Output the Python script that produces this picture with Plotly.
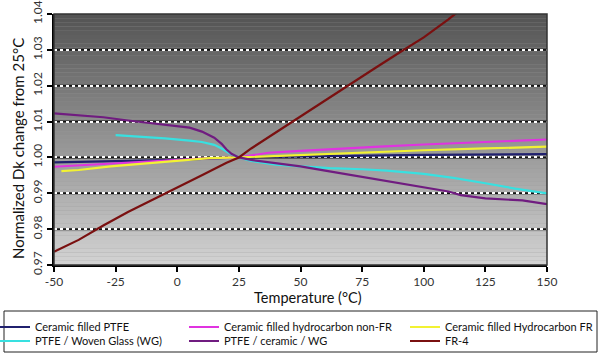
import plotly.graph_objects as go

# ---- data ----
fr4_x = [-50, -40, -30, -20, -10, 0, 10, 20, 25, 30, 40, 50, 60, 70, 80, 90, 100, 110, 120]
fr4_y = [0.9737, 0.9770, 0.9810, 0.9848, 0.9882, 0.9915, 0.9950, 0.9985, 1.0000, 1.0025, 1.0070,
         1.0115, 1.0160, 1.0205, 1.0248, 1.0292, 1.0335, 1.0385, 1.0440]

purple_x = [-50, -40, -30, -20, -10, 0, 5, 10, 15, 18, 20, 22, 25, 30, 40, 50, 60, 75, 90, 100, 110,
            115, 125, 140, 150]
purple_y = [1.0123, 1.0118, 1.0112, 1.0103, 1.0095, 1.0088, 1.0083, 1.0072, 1.0055, 1.0038, 1.0022,
            1.0010, 1.0000, 0.9993, 0.9985, 0.9975, 0.9963, 0.9945, 0.9928, 0.9917, 0.9905,
            0.9895, 0.9886, 0.9880, 0.9870]

cyan_x = [-25, -15, -5, 5, 10, 15, 18, 21, 25, 30, 40, 50, 62, 75, 85, 100, 112, 125, 137, 150]
cyan_y = [1.0062, 1.0058, 1.0053, 1.0047, 1.0043, 1.0035, 1.0025, 1.0012, 1.0000, 0.9990, 0.9980,
          0.9975, 0.9970, 0.9967, 0.9963, 0.9954, 0.9943, 0.9928, 0.9913, 0.9900]

navy_x = [-50, -25, 0, 25, 50, 100, 150]
navy_y = [0.9986, 0.9989, 0.9993, 1.0000, 1.0003, 1.0007, 1.0009]

magenta_x = [-50, -40, -25, -10, 0, 10, 25, 37, 50, 62, 82, 100, 125, 150]
magenta_y = [0.9974, 0.9978, 0.9985, 0.9991, 0.9994, 0.9997, 1.0000, 1.0013, 1.0018, 1.0023,
             1.0030, 1.0036, 1.0043, 1.0050]

yellow_x = [-47, -40, -27, -11, 0, 13, 25, 40, 62, 82, 100, 125, 150]
yellow_y = [0.9962, 0.9965, 0.9975, 0.9984, 0.9990, 0.9998, 1.0000, 1.0004, 1.0010, 1.0016,
            1.0020, 1.0025, 1.0030]

series_names = ["Ceramic filled PTFE", "Ceramic filled hydrocarbon non-FR", "Ceramic filled Hydrocarbon FR",
                "PTFE / Woven Glass (WG)", "PTFE / ceramic / WG", "FR-4"]
series_x = [navy_x, magenta_x, yellow_x, cyan_x, purple_x, fr4_x]
series_y = [navy_y, magenta_y, yellow_y, cyan_y, purple_y, fr4_y]
series_colors = ["#20206E", "#E033E0", "#F2F232", "#38E0E0", "#701C80", "#7A1010"]

x_ticks = [-50, -25, 0, 25, 50, 75, 100, 125, 150]
y_ticks = [0.97, 0.98, 0.99, 1.00, 1.01, 1.02, 1.03, 1.04]

x_title = "Temperature (°C)"
y_title = "Normalized Dk change from 25°C"

# ---- layout geometry (pixels) ----
W, H = 600, 355
L, R, T, B = 54, 53, 14, 90
pw, ph = W - L - R, H - T - B

def px2paper_x(p):
    return (p - L) / pw

def px2paper_y(p):
    return (H - B - p) / ph

FONT = "Lato, 'Liberation Sans', Arial, sans-serif"

fig = go.Figure()

# legend placement: 3 columns x 2 rows, one legend per entry
col_px = [-5, 184, 405]
row_px = [327, 341]
legend_names = ["legend", "legend2", "legend3", "legend4", "legend5", "legend6"]

for i, (nm, xs, ys, c) in enumerate(zip(series_names, series_x, series_y, series_colors)):
    fig.add_trace(go.Scatter(x=xs, y=ys, mode="lines", name=nm,
                             line=dict(color=c, width=2.2), legend=legend_names[i]))

legend_layout = {}
for i, ln in enumerate(legend_names):
    r, cidx = divmod(i, 3)
    legend_layout[ln] = dict(
        x=px2paper_x(col_px[cidx]), y=px2paper_y(row_px[r]),
        xanchor="left", yanchor="middle", bgcolor="rgba(0,0,0,0)",
        font=dict(family=FONT, size=11, color="#111"), borderwidth=0,
        itemwidth=30,
    )

shapes = []
# vertical gray gradient background
N = 60
top_c, bot_c = 84, 210
for k in range(N):
    f = k / (N - 1)
    v = int(round(top_c + (bot_c - top_c) * f))
    shapes.append(dict(type="rect", xref="x domain", yref="y domain",
                       x0=0, x1=1, y0=1 - k / N, y1=1 - (k + 1) / N,
                       fillcolor=f"rgb({v},{v},{v})", line=dict(width=0), layer="below"))
# black base under the white dotted gridlines
for yv in y_ticks[1:-1]:
    shapes.append(dict(type="line", xref="x domain", yref="y", x0=0, x1=1, y0=yv, y1=yv,
                       line=dict(color="#111", width=2), layer="below"))
# plot frame
shapes.append(dict(type="rect", xref="x domain", yref="y domain", x0=0, x1=1, y0=0, y1=1,
                   line=dict(color="#333", width=1.5), fillcolor="rgba(0,0,0,0)", layer="above"))
# legend box
shapes.append(dict(type="rect", xref="paper", yref="paper",
                   x0=px2paper_x(4), x1=px2paper_x(597), y0=px2paper_y(352), y1=px2paper_y(311),
                   line=dict(color="#222", width=1), fillcolor="rgba(0,0,0,0)", layer="above"))

annotations = [
    dict(text=x_title, xref="paper", yref="paper", x=px2paper_x(308), y=px2paper_y(297),
         xanchor="center", yanchor="middle", showarrow=False,
         font=dict(family=FONT, size=14.5, color="#111")),
    dict(text=y_title, xref="paper", yref="paper", x=px2paper_x(18), y=px2paper_y(149),
         xanchor="center", yanchor="middle", showarrow=False, textangle=-90,
         font=dict(family=FONT, size=15, color="#111")),
]

fig.update_layout(
    width=W, height=H,
    margin=dict(l=L, r=R, t=T, b=B, autoexpand=False),
    paper_bgcolor="white", plot_bgcolor="#999",
    shapes=shapes, annotations=annotations,
    showlegend=True,
    **legend_layout,
)

fig.update_xaxes(range=[-50, 150], tickvals=x_ticks, ticktext=[str(v) for v in x_ticks],
                 automargin=False,
                 showgrid=False, zeroline=False, showline=True, linecolor="black", linewidth=2,
                 ticks="outside", ticklen=5, tickwidth=1.5, tickcolor="black",
                 tickfont=dict(family=FONT, size=12, color="#333"))
fig.update_yaxes(range=[0.97, 1.04], tickvals=y_ticks, ticktext=[f"{v:.2f}" for v in y_ticks],
                 automargin=False,
                 tickangle=-90, showgrid=True, gridcolor="white", gridwidth=2, griddash="dot",
                 zeroline=False, showline=True, linecolor="black", linewidth=2,
                 ticks="outside", ticklen=5, tickwidth=1.5, tickcolor="black",
                 tickfont=dict(family=FONT, size=12, color="#333"))

fig.write_html("out.html", post_script="document.body.style.margin='0';",
               config={"displayModeBar": False})
